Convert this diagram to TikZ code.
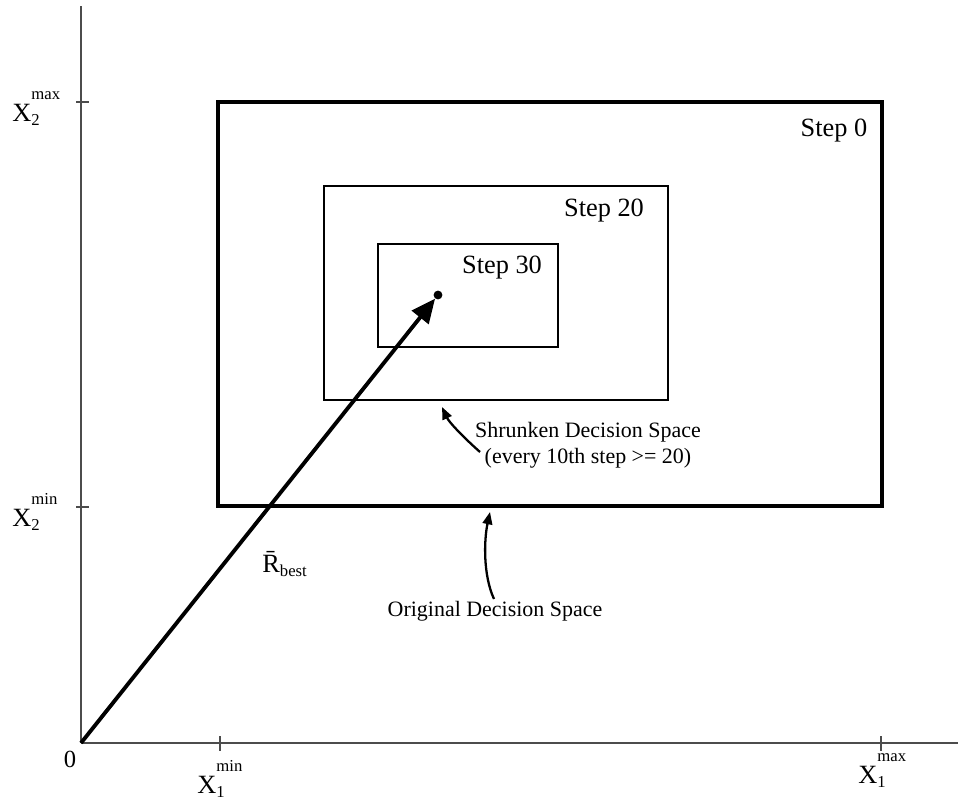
\documentclass[tikz,border=0pt]{standalone}
\usepackage{fontspec}
\setmainfont{Liberation Serif}
\usetikzlibrary{arrows.meta}
\newcommand{\axmark}[2]{X\rlap{\raisebox{-0.35ex}{\fontsize{9.5}{10}\selectfont #1}}\raisebox{1.75ex}{\fontsize{9.5}{10}\selectfont #2}}

\begin{document}
\begin{tikzpicture}[x=0.02cm, y=-0.02cm, line join=miter, font=\fontsize{12.5}{15}\selectfont]
	\tikzset{
		axis/.style={gray!60!black, line width=0.8pt},
		pointer/.style={line width=1.3pt, -{Triangle[length=7pt, width=5.5pt]}},
		steplabel/.style={font=\fontsize{15}{18}\selectfont},
		axlabel/.style={font=\fontsize{15}{18}\selectfont, inner sep=0pt, anchor=base west}
	}
	\useasboundingbox (0,0) rectangle (958,801);
	\coordinate (O) at (81,743);
	\coordinate (xend) at (958,743);
	\coordinate (yend) at (81,6);
	% axes
	\draw[axis] (O) -- (xend);
	\draw[axis] (O) -- (yend);
	\node[font=\fontsize{14}{16}\selectfont] (zero) at (70,759) {0};
	\foreach \x/\y/\n in {220/793/min, 881/783/max} {
		\draw[axis] (\x,736) -- (\x,751);
		\node[axlabel] (x1\n) at (\x-23,\y) {\axmark{1}{\n}};
	}
	\foreach \y/\n in {507/min, 102/max} {
		\draw[axis] (76,\y) -- (89,\y);
		\node[axlabel] (x2\n) at (12,\y+19) {\axmark{2}{\n}};
	}
	% decision spaces
	\draw[line width=2.6pt] (218,102) rectangle (882,506);
	\draw[line width=1.7pt] (324,186) rectangle (668,400);
	\draw[line width=1.7pt] (378,244) rectangle (558,347);
	\node[steplabel] (s0) at (834,131) {Step 0};
	\node[steplabel] (s20) at (604,211) {Step 20};
	\node[steplabel] (s30) at (502,268) {Step 30};
	% best point
	\node[circle, fill, inner sep=0pt, minimum size=5pt] (Rb) at (438,295) {};
	\draw[line width=2.2pt, -{Triangle[length=0.48cm, width=0.42cm]}] (O) -- (Rb);
	\node[axlabel] (Rlab) at (262,572) {\=R\raisebox{-0.4ex}{\fontsize{9.5}{10}\selectfont best}};
	% notes
	\node[align=center, inner sep=1pt] (shr) at (588,445) {Shrunken Decision Space\\(every 10th step >= 20)};
	\node (orig) at (495,611) {Original Decision Space};
	\coordinate (shrtail) at (480,452);
	\coordinate (shrtip) at (442,407);
	\coordinate (origtail) at (494,599);
	\coordinate (origtip) at (490,512);
	\draw[pointer] (shrtail) .. controls (462,436) and (449,422) .. (shrtip);
	\draw[pointer] (origtail) .. controls (483,575) and (484,540) .. (origtip);
\end{tikzpicture}
\end{document}
